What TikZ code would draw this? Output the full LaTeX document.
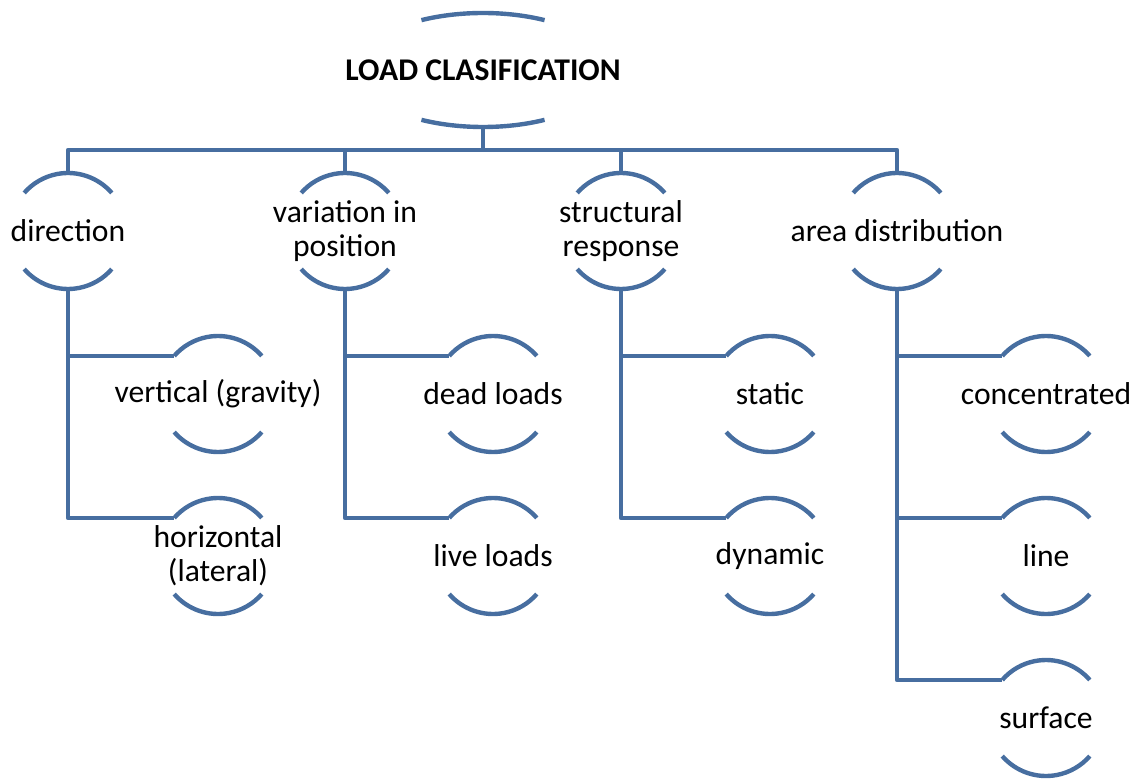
\documentclass[tikz,border=0pt]{standalone}
\usepackage{fontspec}
\setmainfont{Carlito}
\usetikzlibrary{calc}
\definecolor{rimblue}{RGB}{71,110,160}

\begin{document}
\begin{tikzpicture}[
    x=0.02cm, y=0.02cm,
    font=\fontsize{18}{19.5}\selectfont,
    rim/.style={draw=rimblue, line width=2.5pt},
    link/.style={draw=rimblue, line width=2.5pt, line join=round},
    txt/.style={align=center, inner sep=0pt}
]
\useasboundingbox (0,0) rectangle (1138,778);

    % --- Title ---
    \node[txt, font=\fontsize{18}{19.5}\selectfont\bfseries] (load) at (483,708) {LOAD CLASIFICATION};
    \draw[rim, shift={(load.center)}] (61:127 and 57) arc[start angle=61, end angle=119, x radius=127, y radius=57]
        (241:127 and 57) arc[start angle=241, end angle=299, x radius=127, y radius=57];
    \coordinate (load-b) at ($(load.center)+(0,-57)$);
    \coordinate (bar) at (0,628);

    % --- Groups ---
    \node[txt] (dir) at (68,547) {direction};
    \node[txt] (var) at (345,547) {variation in\\position};
    \node[txt] (str) at (621,547) {structural\\response};
    \node[txt] (area) at (897,547) {area distribution};

    % --- Load types ---
    \node[txt] (vert) at (218,384) {vertical (gravity)};
    \node[txt] (hori) at (218,222) {horizontal\\(lateral)};
    \node[txt] (dead) at (493,384) {dead loads};
    \node[txt] (live) at (493,222) {live loads};
    \node[txt] (stat) at (770,384) {static};
    \node[txt] (dyn) at (770,222) {dynamic};
    \node[txt] (conc) at (1046,384) {concentrated};
    \node[txt] (lin) at (1046,222) {line};
    \node[txt] (surf) at (1046,60) {surface};

    % --- Rims ---
    \foreach \n in {dir,var,str,area,vert,hori,dead,live,stat,dyn,conc,lin,surf} {
        \draw[rim, shift={(\n.center)}] (41:58) arc[start angle=41, end angle=139, radius=58]
            (221:58) arc[start angle=221, end angle=319, radius=58];
        \coordinate (\n-t) at ($(\n.center)+(0,58)$);
        \coordinate (\n-b) at ($(\n.center)+(0,-58)$);
        \coordinate (\n-l) at ($(\n.center)+(139:58)$);
    }

    % --- Connectors ---
    \draw[link] (load-b) -- (load-b |- bar);
    \draw[link] (dir-t) -- (dir-t |- bar) -- (area-t |- bar) -- (area-t);
    \draw[link] (var-t) -- (var-t |- bar);
    \draw[link] (str-t) -- (str-t |- bar);

    \draw[link] (dir-b) |- (vert-l);
    \draw[link] (dir-b) |- (hori-l);
    \draw[link] (var-b) |- (dead-l);
    \draw[link] (var-b) |- (live-l);
    \draw[link] (str-b) |- (stat-l);
    \draw[link] (str-b) |- (dyn-l);
    \draw[link] (area-b) |- (conc-l);
    \draw[link] (area-b) |- (lin-l);
    \draw[link] (area-b) |- (surf-l);
\end{tikzpicture}
\end{document}
